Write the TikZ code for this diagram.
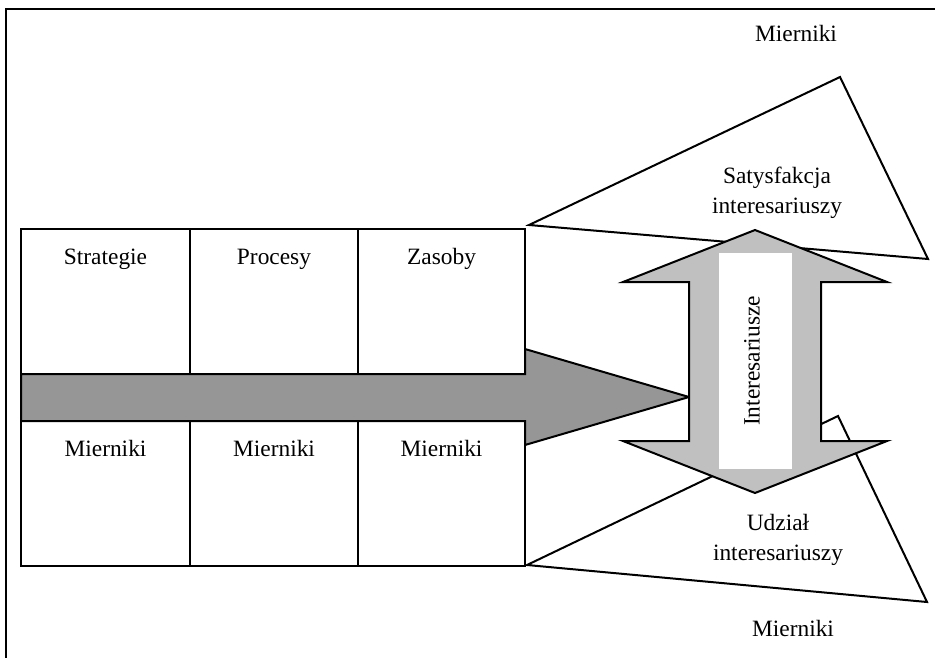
\documentclass[tikz,border=0pt]{standalone}
\usepackage{fontspec}
\setmainfont{Liberation Serif}
\definecolor{shaftgray}{RGB}{150,150,150}
\definecolor{arrowgray}{RGB}{192,192,192}
\begin{document}
\begin{tikzpicture}[x=0.5pt, y=-0.5pt, line width=1pt, line join=miter,
    lbl/.style={font=\fontsize{11.7}{14.8}\selectfont, align=center, inner sep=0pt}]
    \useasboundingbox (0,0) rectangle (935,658);

    % Frame
    \draw (935,9) -- (6,9) -- (6,658);

    % Triangles
    \draw (529,225) -- (840,77) -- (928,259) -- cycle;
    \draw (527,565) -- (838,416) -- (927,602) -- cycle;

    % Main arrow
    \filldraw[fill=shaftgray] (21,374) -- (525,374) -- (525,349) -- (689,397)
        -- (525,445) -- (525,421) -- (21,421) -- cycle;

    % Boxes
    \foreach \xa/\xb/\nm/\txt in {21/190/str/Strategie, 190/358/pro/Procesy, 358/525/zas/Zasoby} {
        \draw (\xa,229) rectangle (\xb,374);
        \draw (\xa,421) rectangle (\xb,566);
        \node[lbl, anchor=base] (\nm) at ({(\xa+\xb)/2},264) {\txt};
        \node[lbl, anchor=base] (\nm-m) at ({(\xa+\xb)/2},456) {Mierniki};
    }

    % Double arrow
    \filldraw[fill=arrowgray] (755,230) -- (887,282) -- (821,282) -- (821,441)
        -- (887,441) -- (755,493) -- (623,441) -- (689,441) -- (689,282)
        -- (623,282) -- cycle;
    \fill[white] (719,253) rectangle (792,469);
    \node[lbl, rotate=90] (inter) at (752,361) {Interesariusze};

    % Labels
    \node[lbl, anchor=base] (mtop) at (796,42) {Mierniki};
    \node[lbl, anchor=base] (sat) at (777,213) {Satysfakcja\\interesariuszy};
    \node[lbl, anchor=base] (udz) at (778,560) {Udział\\interesariuszy};
    \node[lbl, anchor=base] (mbot) at (793,636) {Mierniki};
\end{tikzpicture}
\end{document}
